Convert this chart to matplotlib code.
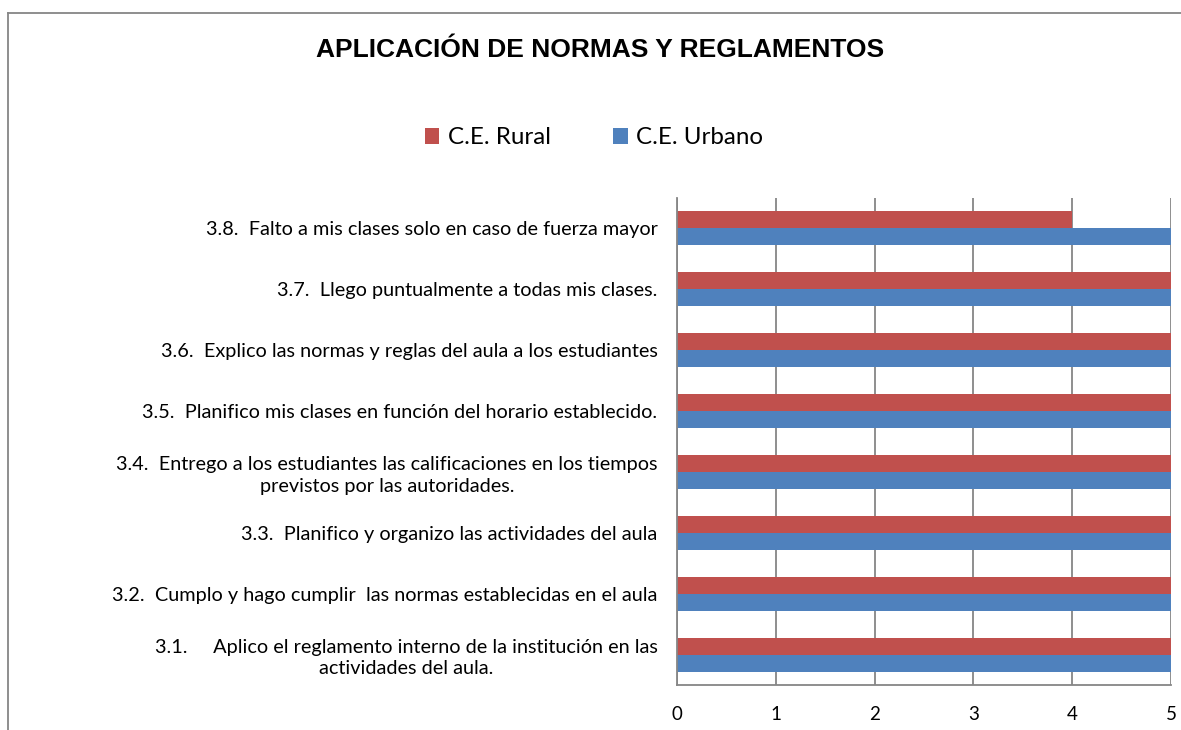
import matplotlib
matplotlib.use("Agg")
import matplotlib.pyplot as plt
import numpy as np
from matplotlib.lines import Line2D

# datos del grafico (de abajo hacia arriba)
categorias = [
    "3.1.     Aplico el reglamento interno de la institución en las\nactividades del aula.",
    "3.2.  Cumplo y hago cumplir  las normas establecidas en el aula",
    "3.3.  Planifico y organizo las actividades del aula",
    "3.4.  Entrego a los estudiantes las calificaciones en los tiempos\nprevistos por las autoridades.",
    "3.5.  Planifico mis clases en función del horario establecido.",
    "3.6.  Explico las normas y reglas del aula a los estudiantes",
    "3.7.  Llego puntualmente a todas mis clases.",
    "3.8.  Falto a mis clases solo en caso de fuerza mayor",
]
rural = [5, 5, 5, 5, 5, 5, 5, 4]
urbano = [5, 5, 5, 5, 5, 5, 5, 5]
ticks_x = [0, 1, 2, 3, 4, 5]

plt.rcParams["font.family"] = ["Lato", "DejaVu Sans"]

fig = plt.figure(figsize=(11.81, 7.30), dpi=100)
ax = fig.add_axes([0.5732, 0.0616, 0.4183, 0.6672])

y = np.arange(len(categorias))
h = 0.28
ax.barh(y + h / 2, rural, height=h, color="#C0504D", label="C.E. Rural")
ax.barh(y - h / 2, urbano, height=h, color="#4F81BD", label="C.E. Urbano")

ax.set_xlim(0, 5)
ax.set_ylim(-0.5, 7.5)
ax.set_xticks(ticks_x)
ax.set_yticks(y)
ax.set_yticklabels(categorias, fontsize=14.3, multialignment="center", linespacing=1.3)
ax.tick_params(axis="y", length=0, pad=14)
ax.tick_params(axis="x", length=0, pad=15, labelsize=13.5)

ax.set_axisbelow(True)
ax.grid(axis="x", color="#868686", linewidth=1.3)
for s in ["top", "right"]:
    ax.spines[s].set_visible(False)
for s in ["left", "bottom"]:
    ax.spines[s].set_color("#868686")
    ax.spines[s].set_linewidth(1.3)

fig.text(0.508, 0.932, "APLICACIÓN DE NORMAS Y REGLAMENTOS", ha="center", va="center",
         fontsize=19, fontweight="bold", family="Liberation Sans")

fig.legend(loc="center", bbox_to_anchor=(0.503, 0.811), ncol=2, frameon=False,
           fontsize=17.4, handlelength=0.6, handleheight=0.6, handletextpad=0.35,
           columnspacing=2.6)

# marco del grafico
fig.add_artist(Line2D([0.007, 0.007], [0, 0.982], color="#868686", linewidth=1.3))
fig.add_artist(Line2D([0.007, 1], [0.982, 0.982], color="#868686", linewidth=1.3))

fig.savefig("out.png", dpi=100)
plt.close("all")
